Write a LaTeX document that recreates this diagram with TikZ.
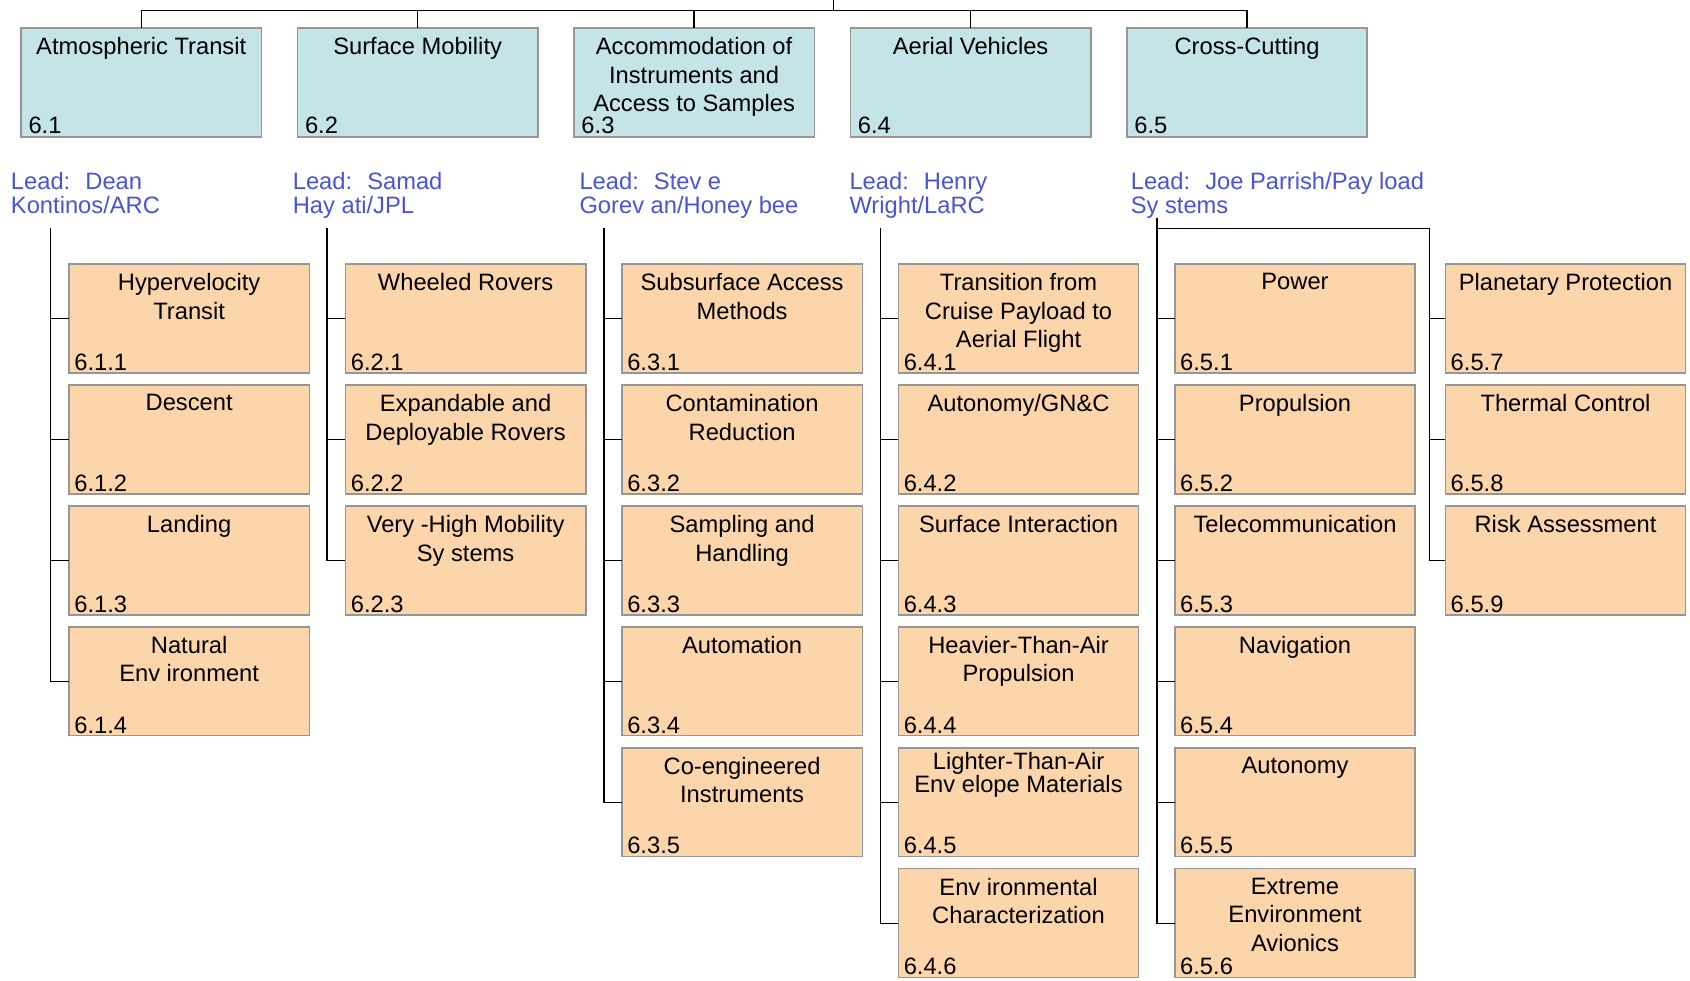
\documentclass[tikz,border=0pt]{standalone}
\usepackage{fontspec}
\setmainfont{Liberation Sans}
\usetikzlibrary{positioning}
\definecolor{taskblue}{RGB}{197,228,232}
\definecolor{subpeach}{RGB}{253,213,170}
\definecolor{boxgray}{RGB}{150,150,150}
\definecolor{leadblue}{RGB}{72,84,216}
\newcommand{\wbsfont}{\fontsize{22}{26.5}\selectfont}
\newcommand{\leadfont}{\fontsize{22}{22}\selectfont}
\tikzset{
    node distance = 11.2pt and 33.5pt, % vertical gap between sub boxes, horizontal gap between columns
    task/.style = {rectangle, draw=boxgray, line width=1.4pt, outer sep=0pt, fill=taskblue, anchor=north west, inner xsep=7pt, inner ysep=0pt, text width=209pt, text height=97.5pt, text depth=3.5pt, align=left, font=\wbsfont},
    subtask/.style = {task, fill=subpeach, inner xsep=5pt, text width=213pt, text height=98.5pt, text depth=2.5pt},
    hd/.style = {anchor=north, align=center, inner sep=0pt, yshift=-8.5pt, text width={}, text height={}, text depth={}, font=\wbsfont}, % title at the top of a box
    lead/.style = {anchor=north west, align=left, inner sep=0pt, text=leadblue, font=\leadfont},
    wire/.style = {line width=1.2pt, black}
}
\begin{document}
\begin{tikzpicture}[x=1pt, y=-1pt]
\useasboundingbox (0,0) rectangle (1568,910);
% top level
\node[task, label={[hd]90:Atmospheric Transit}] (t61) at (19.5,26) {6.1};
\node[task, label={[hd]90:Surface Mobility}] (t62) [right=of t61] {6.2};
\node[task, label={[hd]90:Accommodation of\\Instruments and\\Access to Samples}] (t63) [right=of t62] {6.3};
\node[task, label={[hd]90:Aerial Vehicles}] (t64) [right=of t63] {6.4};
\node[task, label={[hd]90:Cross-Cutting}] (t65) [right=of t64] {6.5};

% leads
\node[lead] (l61) at (10,160) {Lead:\hspace{14pt}Dean\\Kontinos/ARC};
\node[lead] (l62) at (271.5,160) {Lead:\hspace{14pt}Samad\\Hay ati/JPL};
\node[lead] (l63) at (537.5,160) {Lead:\hspace{14pt}Stev e\\Gorev an/Honey bee};
\node[lead] (l64) at (788,160) {Lead:\hspace{14pt}Henry\\Wright/LaRC};
\node[lead] (l65) at (1049,160) {Lead:\hspace{14pt}Joe Parrish/Pay load\\Sy stems};

% 6.1
\node[subtask, label={[hd]90:Hypervelocity\\Transit}] (b611) at (64,245) {6.1.1};
\node[subtask, label={[hd]90:Descent}] (b612) [below=of b611] {6.1.2};
\node[subtask, label={[hd]90:Landing}] (b613) [below=of b612] {6.1.3};
\node[subtask, label={[hd]90:Natural\\Env ironment}] (b614) [below=of b613] {6.1.4};
% 6.2
\node[subtask, label={[hd]90:Wheeled Rovers}] (b621) [right=of b611] {6.2.1};
\node[subtask, label={[hd]90:Expandable and\\Deployable Rovers}] (b622) [below=of b621] {6.2.2};
\node[subtask, label={[hd]90:Very -High Mobility\\Sy stems}] (b623) [below=of b622] {6.2.3};
% 6.3
\node[subtask, label={[hd]90:Subsurface Access\\Methods}] (b631) [right=of b621] {6.3.1};
\node[subtask, label={[hd]90:Contamination\\Reduction}] (b632) [below=of b631] {6.3.2};
\node[subtask, label={[hd]90:Sampling and\\Handling}] (b633) [below=of b632] {6.3.3};
\node[subtask, label={[hd]90:Automation}] (b634) [below=of b633] {6.3.4};
\node[subtask, label={[hd]90:Co-engineered\\Instruments}] (b635) [below=of b634] {6.3.5};
% 6.4
\node[subtask, label={[hd]90:Transition from\\Cruise Payload to\\Aerial Flight}] (b641) [right=of b631] {6.4.1};
\node[subtask, label={[hd]90:Autonomy/GN\&C}] (b642) [below=of b641] {6.4.2};
\node[subtask, label={[hd]90:Surface Interaction}] (b643) [below=of b642] {6.4.3};
\node[subtask, label={[hd]90:Heavier-Than-Air\\Propulsion}] (b644) [below=of b643] {6.4.4};
\node[subtask, label={[hd, yshift=4.5pt, font=\fontsize{22}{20}\selectfont]90:Lighter-Than-Air\\Env elope Materials}] (b645) [below=of b644] {6.4.5};
\node[subtask, label={[hd]90:Env ironmental\\Characterization}] (b646) [below=of b645] {6.4.6};
% 6.5
\node[subtask, label={[hd]90:Power}] (b651) [right=of b641] {6.5.1};
\node[subtask, label={[hd]90:Propulsion}] (b652) [below=of b651] {6.5.2};
\node[subtask, label={[hd]90:Telecommunication}] (b653) [below=of b652] {6.5.3};
\node[subtask, label={[hd]90:Navigation}] (b654) [below=of b653] {6.5.4};
\node[subtask, label={[hd]90:Autonomy}] (b655) [below=of b654] {6.5.5};
\node[subtask, label={[hd]90:Extreme\\Environment\\Avionics}] (b656) [below=of b655] {6.5.6};
\node[subtask, label={[hd]90:Planetary Protection}] (b657) [right=28pt of b651] {6.5.7};
\node[subtask, label={[hd]90:Thermal Control}] (b658) [below=of b657] {6.5.8};
\node[subtask, label={[hd]90:Risk Assessment}] (b659) [below=of b658] {6.5.9};

% connectors
\coordinate (root) at (773,-2);
\coordinate (bus) at (773,9.5);
\draw[wire] (root) -- (bus);
\draw[wire] (bus) -| (t61.north);
\draw[wire] (bus) -| (t62.north);
\draw[wire] (bus) -| (t63.north);
\draw[wire] (bus) -| (t64.north);
\draw[wire] (bus) -| (t65.north);

\coordinate (c61) at (47,212);
\coordinate (c62) at (303.5,212);
\coordinate (c63) at (560.5,212);
\coordinate (c64) at (817,212);
\coordinate (c65) at (1073.5,202);
\coordinate (c65b) at (1326,212);

\draw[wire] (c61) |- (b611.west);
\draw[wire] (c61) |- (b612.west);
\draw[wire] (c61) |- (b613.west);
\draw[wire] (c61) |- (b614.west);

\draw[wire] (c62) |- (b621.west);
\draw[wire] (c62) |- (b622.west);
\draw[wire] (c62) |- (b623.west);

\draw[wire] (c63) |- (b631.west);
\draw[wire] (c63) |- (b632.west);
\draw[wire] (c63) |- (b633.west);
\draw[wire] (c63) |- (b634.west);
\draw[wire] (c63) |- (b635.west);

\draw[wire] (c64) |- (b641.west);
\draw[wire] (c64) |- (b642.west);
\draw[wire] (c64) |- (b643.west);
\draw[wire] (c64) |- (b644.west);
\draw[wire] (c64) |- (b645.west);
\draw[wire] (c64) |- (b646.west);

\draw[wire] (c65) |- (b651.west);
\draw[wire] (c65) |- (b652.west);
\draw[wire] (c65) |- (b653.west);
\draw[wire] (c65) |- (b654.west);
\draw[wire] (c65) |- (b655.west);
\draw[wire] (c65) |- (b656.west);

\draw[wire] (c65 |- c65b) -- (c65b);
\draw[wire] (c65b) |- (b657.west);
\draw[wire] (c65b) |- (b658.west);
\draw[wire] (c65b) |- (b659.west);
\end{tikzpicture}
\end{document}
